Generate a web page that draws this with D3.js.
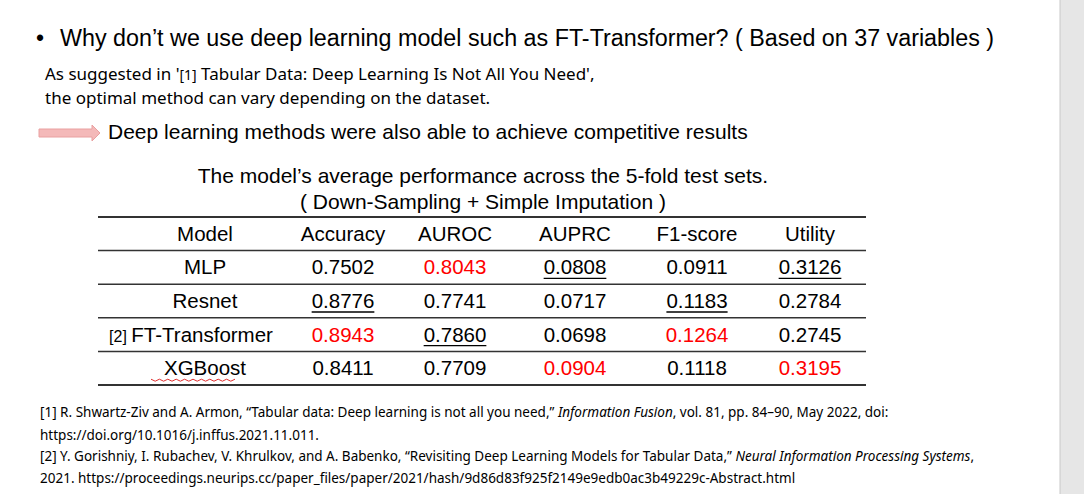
<!DOCTYPE html><html><head><meta charset="utf-8"><script src="https://cdn.jsdelivr.net/npm/d3@7"></script>
<style>body{margin:0;background:#fff}</style></head><body><svg id="s" width="1084" height="494"></svg>
<script>
const columns=["Model","Accuracy","AUROC","AUPRC","F1-score","Utility"];
const models=["MLP","Resnet","FT-Transformer","XGBoost"];
const accuracy=[0.7502,0.8776,0.8943,0.8411];
const auroc=[0.8043,0.7741,0.7860,0.7709];
const auprc=[0.0808,0.0717,0.0698,0.0904];
const f1=[0.0911,0.1183,0.1264,0.1118];
const utility=[0.3126,0.2784,0.2745,0.3195];
// style codes: r = best (red), u = second (underline)
const marks=[["","r","u","","u"],["u","","","u",""],["r","u","","r",""],["","","r","","r"]];
const svg=d3.select("#s");
svg.append("rect").attr("x",1060).attr("y",0).attr("width",24).attr("height",494).attr("fill","#e6e6e6");
svg.append("line").attr("x1",1060).attr("x2",1060).attr("y1",0).attr("y2",494).attr("stroke","#c8c8c8");
const A="Liberation Sans, Arial, sans-serif", C="Noto Sans, sans-serif";
const t=(x,y,s,fs,f,anchor)=>svg.append("text").attr("x",x).attr("y",y).attr("font-size",fs).attr("font-family",f).attr("text-anchor",anchor||"start").attr("fill","#000").text(s);
t(36,46,"•",23,A);
t(60,46,"Why don’t we use deep learning model such as FT-Transformer? ( Based on 37 variables )",23.3,A);
const s1=t(45,80,"",17,C);s1.append("tspan").text("As suggested in '");s1.append("tspan").attr("font-size",14).text("[1]");s1.append("tspan").text(" Tabular Data: Deep Learning Is Not All You Need',");
t(45,104,"the optimal method can vary depending on the dataset.",17,C);
svg.append("path").attr("d","M39,129 H92 V125 L100,133 L92,141 V137 H39 Z").attr("fill","#f4b9b9").attr("stroke","#e9a0a0");
t(108,139,"Deep learning methods were also able to achieve competitive results",21,A);
t(483,183,"The model’s average performance across the 5-fold test sets.",21,A,"middle");
t(483,209,"( Down-Sampling + Simple Imputation )",21,A,"middle");
const xc=c=>({"Model":205,"Accuracy":343,"AUROC":455,"AUPRC":575,"F1-score":697,"Utility":810})[c];
const y=d3.scaleBand().domain(["h"].concat(models)).range([217,385]);
y.domain().forEach((d,i)=>svg.append("line").attr("x1",98).attr("x2",866).attr("y1",y(d)).attr("y2",y(d)).attr("stroke","#333").attr("stroke-width",i==0?2:1.5));
svg.append("line").attr("x1",98).attr("x2",866).attr("y1",385).attr("y2",385).attr("stroke","#333").attr("stroke-width",2);
const by=d=>y(d)+y.bandwidth()/2+7;
columns.forEach(c=>t(xc(c),by("h"),c,20.5,A,"middle"));
const vals=[accuracy,auroc,auprc,f1,utility];
models.forEach((m,i)=>{
 if(m==="FT-Transformer"){const tx=t(191,by(m),"",20.5,A,"middle");tx.append("tspan").attr("font-size",16).text("[2] ");tx.append("tspan").text(m);}
 else{t(205,by(m),m,20.5,A,"middle");if(m==="XGBoost"){svg.append("path").attr("d",d3.range(0,21).map(k=>(k?"L":"M")+(151+k*4.2)+","+(by(m)+4+(k%2?2:0))).join("")).attr("fill","none").attr("stroke","#e03030").attr("stroke-width",1);}}
 vals.forEach((arr,j)=>{const v=arr[i];const c=columns[j+1];const k=marks[i][j];
  const tx=t(xc(c),by(m),v.toFixed(4),20.5,A,"middle").attr("fill",k==="r"?"#ff0000":"#000");
  if(k==="u"){const w=tx.node().getComputedTextLength();svg.append("line").attr("x1",xc(c)-w/2).attr("x2",xc(c)+w/2).attr("y1",by(m)+4).attr("y2",by(m)+4).attr("stroke","#000").attr("stroke-width",1.3);}
 });
});
const r=(y0,parts)=>{const tx=t(40,y0,"",13.5,C);parts.forEach(p=>tx.append("tspan").attr("font-style",p[1]?"italic":"normal").text(p[0]));};
r(417,[["[1] R. Shwartz-Ziv and A. Armon, “Tabular data: Deep learning is not all you need,” "],["Information Fusion",1],[", vol. 81, pp. 84–90, May 2022, doi:"]]);
r(440,[["https://doi.org/10.1016/j.inffus.2021.11.011."]]);
r(461,[["[2] Y. Gorishniy, I. Rubachev, V. Khrulkov, and A. Babenko, “Revisiting Deep Learning Models for Tabular Data,” "],["Neural Information Processing Systems",1],[","]]);
r(483,[["2021. https://proceedings.neurips.cc/paper_files/paper/2021/hash/9d86d83f925f2149e9edb0ac3b49229c-Abstract.html"]]);
</script></body></html>
